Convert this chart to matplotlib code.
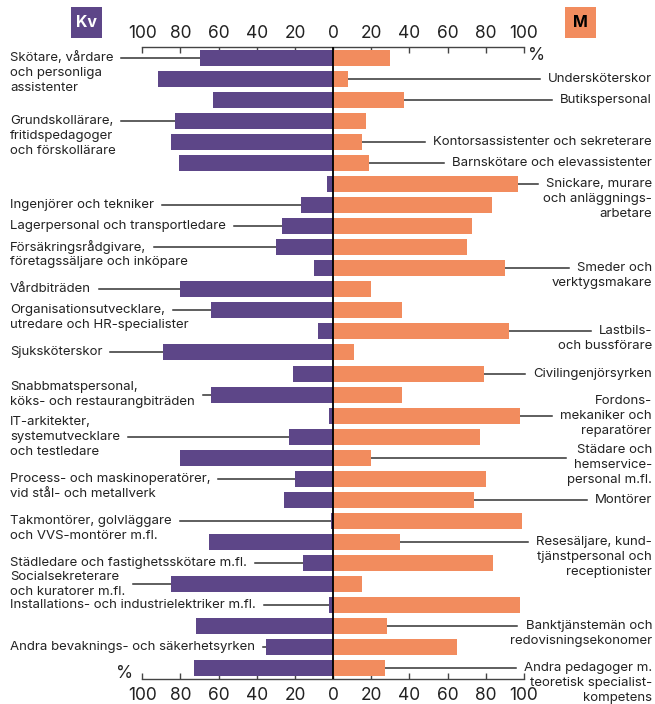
import matplotlib
matplotlib.use("Agg")
import matplotlib.pyplot as plt
import matplotlib.transforms as mtransforms
import numpy as np
from matplotlib.patches import Rectangle

# ---------------- data ----------------
occupations = [
    "Skötare, vårdare\noch personliga\nassistenter",
    "Undersköterskor",
    "Butikspersonal",
    "Grundskollärare,\nfritidspedagoger\noch förskollärare",
    "Kontorsassistenter och sekreterare",
    "Barnskötare och elevassistenter",
    "Snickare, murare\noch anläggnings-\narbetare",
    "Ingenjörer och tekniker",
    "Lagerpersonal och transportledare",
    "Försäkringsrådgivare,\nföretagssäljare och inköpare",
    "Smeder och\nverktygsmakare",
    "Vårdbiträden",
    "Organisationsutvecklare,\nutredare och HR-specialister",
    "Lastbils-\noch bussförare",
    "Sjuksköterskor",
    "Civilingenjörsyrken",
    "Snabbmatspersonal,\nköks- och restaurangbiträden",
    "Fordons-\nmekaniker och\nreparatörer",
    "IT-arkitekter,\nsystemutvecklare\noch testledare",
    "Städare och\nhemservice-\npersonal m.fl.",
    "Process- och maskinoperatörer,\nvid stål- och metallverk",
    "Montörer",
    "Takmontörer, golvläggare\noch VVS-montörer m.fl.",
    "Resesäljare, kund-\ntjänstpersonal och\nreceptionister",
    "Städledare och fastighetsskötare m.fl.",
    "Socialsekreterare\noch kuratorer m.fl.",
    "Installations- och industrielektriker m.fl.",
    "Banktjänstemän och\nredovisningsekonomer",
    "Andra bevaknings- och säkerhetsyrken",
    "Andra pedagoger m.\nteoretisk specialist-\nkompetens",
]
women = [70, 92, 63, 83, 85, 81, 3, 17, 27, 30, 10, 80, 64, 8, 89,
         21, 64, 2, 23, 80, 20, 26, 1, 65, 16, 85, 2, 72, 35, 73]
men = [30, 8, 37, 17, 15, 19, 97, 83, 73, 70, 90, 20, 36, 92, 11,
       79, 36, 98, 77, 20, 80, 74, 99, 35, 84, 15, 98, 28, 65, 27]
label_side = ["L", "R", "R", "L", "R", "R", "R", "L", "L", "L", "R", "L", "L", "R", "L",
              "R", "L", "R", "L", "R", "L", "R", "L", "R", "L", "L", "L", "R", "L", "R"]
# which text line the leader line points from (0 = first line, 0.5 = between 1st and 2nd ...)
label_anchor = [0, 0, 0, 0, 0, 0, 0, 0, 0, 0, 0, 0, 0, 0, 0,
                0, 0.5, 1, 1, 0.5, 0, 0, 0, 0, 0, 0.5, 0, 0, 0, 0]
ticks = [-100, -80, -60, -40, -20, 0, 20, 40, 60, 80, 100]
tick_labels = [str(abs(t)) for t in ticks]
group_women = "Kv"
group_men = "M"

# ---------------- style ----------------
PURPLE = "#5D4688"
ORANGE = "#F28C5E"
TXT = "#222222"
plt.rcParams["font.family"] = ["Inter", "DejaVu Sans"]

W, H = 655, 704
fig = plt.figure(figsize=(W / 100, H / 100), dpi=100)
ax_l, ax_r, ax_t, ax_b = 142.3, 524.0, 47.2, 678.8
ax = fig.add_axes([ax_l / W, 1 - ax_b / H, (ax_r - ax_l) / W, (ax_b - ax_t) / H])

n = len(women)
y = np.arange(n)
ax.barh(y, [-w for w in women], height=0.76, color=PURPLE, zorder=2)
ax.barh(y, men, height=0.76, color=ORANGE, zorder=2)
ax.set_xlim(-100, 100)
ax.set_ylim(n - 0.5, -0.5)
ax.axvline(0, color="black", lw=1.3, zorder=3)

for s in ["left", "right", "top"]:
    ax.spines[s].set_visible(False)
ax.spines["bottom"].set_color("#444444")
ax.spines["bottom"].set_linewidth(1.0)
ax.set_yticks([])
ax.set_xticks(ticks)
ax.set_xticklabels(tick_labels)
ax.tick_params(axis="x", direction="in", length=4, width=1, color="#444444",
               pad=6, labelsize=12.5, labelcolor=TXT)
ax.set_facecolor("none")

sec = ax.secondary_xaxis("top")
sec.spines["top"].set_color("#444444")
sec.spines["top"].set_linewidth(1.0)
sec.set_xticks(ticks)
sec.set_xticklabels(tick_labels)
sec.tick_params(axis="x", direction="in", length=4, width=1, color="#444444",
                pad=4, labelsize=12.5, labelcolor=TXT)

# ---------------- labels with leader lines ----------------
LH = 15.0 / 21.03  # line height in row units
FS = 9.5
tr = mtransforms.blended_transform_factory(fig.transFigure, ax.transData)
texts = []
for i, lab in enumerate(occupations):
    lines = lab.split("\n")
    objs = []
    for j, ln in enumerate(lines):
        yy = i + (j - label_anchor[i]) * LH
        if label_side[i] == "L":
            t = ax.text(10 / W, yy, ln, transform=tr, ha="left", va="center",
                        fontsize=FS, color=TXT, clip_on=False)
        else:
            t = ax.text(652 / W, yy, ln, transform=tr, ha="right", va="center",
                        fontsize=FS, color=TXT, clip_on=False)
        objs.append((j, t))
    texts.append(objs)

fig.canvas.draw()
r = fig.canvas.get_renderer()
inv = ax.transData.inverted()
GAP = 8
for i, objs in enumerate(texts):
    rel = [t for j, t in objs if abs(j - label_anchor[i]) < 1]
    bbs = [t.get_window_extent(r) for t in rel]
    if label_side[i] == "L":
        xpx = max(b.x1 for b in bbs) + GAP
        xd = inv.transform((xpx, 0))[0]
        xend = -women[i]
        if xd < xend:
            ax.plot([xd, xend], [i, i], color="#333333", lw=1.1, clip_on=False, zorder=1)
    else:
        xpx = min(b.x0 for b in bbs) - GAP
        xd = inv.transform((xpx, 0))[0]
        xend = men[i]
        if xd > xend:
            ax.plot([xend, xd], [i, i], color="#333333", lw=1.1, clip_on=False, zorder=1)

# percent signs
fig.text(537 / W, 1 - 56 / H, "%", ha="center", va="center", fontsize=12.5, color=TXT)
fig.text(125 / W, 1 - 673 / H, "%", ha="center", va="center", fontsize=12.5, color=TXT)

# group boxes
for x0, col, lab, tc in [(71, PURPLE, group_women, "white"), (565, ORANGE, group_men, "black")]:
    fig.patches.append(Rectangle((x0 / W, 1 - 38 / H), 31 / W, 31 / H,
                                 transform=fig.transFigure, facecolor=col, edgecolor="none"))
    fig.text((x0 + 15.5) / W, 1 - 22.5 / H, lab, ha="center", va="center",
             fontsize=11.5, fontweight="bold", color=tc)

fig.savefig("out.png", dpi=100)
